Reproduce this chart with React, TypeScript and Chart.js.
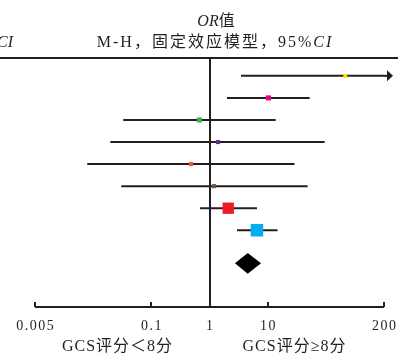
import React, { useEffect, useRef } from 'react';
import { Chart, registerables } from 'chart.js';

Chart.register(...registerables);

// ---- data ----
const ROWS = [1, 2, 3, 4, 5, 6, 7, 8];
const OR_VALUES = [73.8, 10.2, 0.668, 1.4, 0.481, 1.19, 2.1, 6.55];
const CI_LOW = [3.48, 2.0, 0.0485, 0.0348, 0.0192, 0.0461, 0.687, 2.97];
const CI_HIGH = [600, 29.5, 12.3, 43.4, 20.0, 28.0, 6.55, 12.9];
const MARKER_COLORS = ['#F7E400', '#EC008C', '#39B54A', '#662D91', '#F15A29', '#7B5230', '#ED1C24', '#00AEEF'];
const MARKER_RADII = [2.8, 3.6, 3.6, 2.9, 2.9, 2.9, 8.0, 8.8];
const POOLED_ROW = 9.5;
const POOLED_OR = 4.54;
const POOLED_LOW = 2.74;
const POOLED_HIGH = 7.68;
const TICK_VALUES = [0.005, 0.1, 1, 10, 200];
const TICK_LABELS = ['0.005', '0.1', '1', '10', '200'];
const TICK_UNITS = [-3, -1, 0, 1, 3];
const TITLE_1 = ['OR', '值'];
const TITLE_2 = ['M-H，固定效应模型，95%', 'CI'];
const LEFT_CUT = 'CI';
const LABEL_LEFT = 'GCS评分＜8分';
const LABEL_RIGHT = 'GCS评分≥8分';

// piecewise-log axis (as drawn in the source figure)
function toAxis(v: number): number {
  const lv = Math.log10(v);
  const L = TICK_VALUES.map((t) => Math.log10(t));
  let i = 0;
  while (i < L.length - 2 && lv > L[i + 1]) i++;
  return TICK_UNITS[i] + ((lv - L[i]) * (TICK_UNITS[i + 1] - TICK_UNITS[i])) / (L[i + 1] - L[i]);
}

const SERIF = '"Liberation Serif", "Noto Sans CJK SC", serif';
const INK = '#231F20';

type Run = { text: string; font: string };
function drawRuns(ctx: CanvasRenderingContext2D, runs: Run[], x: number, y: number, align: 'center' | 'left', spacing: number) {
  ctx.save();
  (ctx as any).letterSpacing = spacing + 'px';
  ctx.textAlign = 'left';
  ctx.textBaseline = 'alphabetic';
  ctx.fillStyle = INK;
  const widths = runs.map((r) => {
    ctx.font = r.font;
    return ctx.measureText(r.text).width;
  });
  const total = widths.reduce((a, b) => a + b, 0) - spacing;
  let cx = align === 'center' ? x - total / 2 : x;
  runs.forEach((r, i) => {
    ctx.font = r.font;
    ctx.fillText(r.text, cx, y);
    cx += widths[i];
  });
  ctx.restore();
}

const forestPlugin = {
  id: 'forest',
  beforeDatasetsDraw(chart: any) {
    const ctx: CanvasRenderingContext2D = chart.ctx;
    const { left, right, top, bottom } = chart.chartArea;
    const xs = chart.scales.x;
    ctx.save();
    ctx.strokeStyle = INK;
    ctx.lineWidth = 2;
    // top rule
    ctx.beginPath();
    ctx.moveTo(0, top);
    ctx.lineTo(chart.width, top);
    ctx.stroke();
    // line of no effect
    const x1 = Math.round(xs.getPixelForValue(toAxis(1)));
    ctx.beginPath();
    ctx.moveTo(x1, top);
    ctx.lineTo(x1, bottom);
    ctx.stroke();
    // axis
    ctx.beginPath();
    ctx.moveTo(left, bottom);
    ctx.lineTo(right, bottom);
    ctx.stroke();
    TICK_VALUES.forEach((t) => {
      const px = Math.round(xs.getPixelForValue(toAxis(t)));
      ctx.beginPath();
      ctx.moveTo(px, bottom);
      ctx.lineTo(px, bottom - 5);
      ctx.stroke();
    });
    // arrows for CIs beyond axis
    const ys = chart.scales.y;
    ROWS.forEach((r, i) => {
      if (CI_HIGH[i] > TICK_VALUES[TICK_VALUES.length - 1]) {
        const py = ys.getPixelForValue(r);
        ctx.beginPath();
        ctx.moveTo(right, py);
        ctx.lineTo(right + 4, py);
        ctx.stroke();
        ctx.fillStyle = INK;
        ctx.beginPath();
        ctx.moveTo(right + 3, py - 5.5);
        ctx.lineTo(right + 9, py);
        ctx.lineTo(right + 3, py + 5.5);
        ctx.closePath();
        ctx.fill();
      }
    });
    ctx.restore();
  },
  afterDatasetsDraw(chart: any) {
    const ctx: CanvasRenderingContext2D = chart.ctx;
    const { bottom } = chart.chartArea;
    const xs = chart.scales.x;
    const ys = chart.scales.y;
    // pooled diamond
    const yc = ys.getPixelForValue(POOLED_ROW);
    const xl = xs.getPixelForValue(toAxis(POOLED_LOW));
    const xm = xs.getPixelForValue(toAxis(POOLED_OR));
    const xh = xs.getPixelForValue(toAxis(POOLED_HIGH));
    ctx.save();
    ctx.fillStyle = '#000000';
    ctx.beginPath();
    ctx.moveTo(xl, yc);
    ctx.lineTo(xm, yc - 10.3);
    ctx.lineTo(xh, yc);
    ctx.lineTo(xm, yc + 10.3);
    ctx.closePath();
    ctx.fill();
    ctx.restore();

    // tick labels
    TICK_VALUES.forEach((t, i) => {
      const px = xs.getPixelForValue(toAxis(t));
      drawRuns(ctx, [{ text: TICK_LABELS[i], font: '14px ' + SERIF }], px, bottom + 22.5, 'center', 1.5);
    });
    // group labels
    drawRuns(ctx, [{ text: LABEL_LEFT, font: '16px ' + SERIF }], 117, 351, 'center', 1);
    drawRuns(ctx, [{ text: LABEL_RIGHT, font: '16px ' + SERIF }], 294, 351, 'center', 1);
    // titles
    drawRuns(ctx, [
      { text: TITLE_1[0], font: 'italic 16px ' + SERIF },
      { text: TITLE_1[1], font: '16px ' + SERIF },
    ], 216, 25.5, 'center', 0);
    drawRuns(ctx, [
      { text: TITLE_2[0], font: '16px ' + SERIF },
      { text: TITLE_2[1], font: 'italic 16px ' + SERIF },
    ], 214, 46.5, 'center', 2);
    drawRuns(ctx, [{ text: LEFT_CUT, font: 'italic 16px ' + SERIF }], -3, 46.5, 'left', 0);
  },
};

export default function App() {
  const ref = useRef<HTMLCanvasElement>(null);
  useEffect(() => {
    document.body.style.margin = '0';
    const canvas = ref.current!;
    const maxTick = TICK_VALUES[TICK_VALUES.length - 1];
    const minTick = TICK_VALUES[0];
    const lineSets = ROWS.map((r, i) => ({
      type: 'line' as const,
      data: [
        { x: toAxis(Math.max(CI_LOW[i], minTick)), y: r },
        { x: toAxis(Math.min(CI_HIGH[i], maxTick)), y: r },
      ],
      borderColor: INK,
      borderWidth: 2,
      pointRadius: 0,
      showLine: true,
      fill: false,
      order: 2,
    }));
    const points = {
      type: 'scatter' as const,
      data: ROWS.map((r, i) => ({ x: toAxis(OR_VALUES[i]), y: r })),
      pointStyle: 'rect',
      pointRadius: MARKER_RADII,
      pointBackgroundColor: MARKER_COLORS,
      pointBorderWidth: 0,
      borderWidth: 0,
      order: 1,
    };
    const chart = new Chart(canvas, {
      type: 'scatter',
      data: { datasets: [points as any, ...lineSets] },
      options: {
        responsive: false,
        animation: false,
        devicePixelRatio: 1,
        events: [],
        layout: { padding: { left: 35, right: 14, top: 58, bottom: 47 } },
        scales: {
          x: { type: 'linear', display: false, min: toAxis(minTick), max: toAxis(maxTick) },
          y: { type: 'linear', display: false, min: 0.19, max: 11.48, reverse: true },
        },
        plugins: { legend: { display: false }, tooltip: { enabled: false } },
      },
      plugins: [forestPlugin],
    });
    return () => chart.destroy();
  }, []);
  return <canvas ref={ref} width={398} height={354} style={{ display: 'block', width: 398, height: 354 }} />;
}
